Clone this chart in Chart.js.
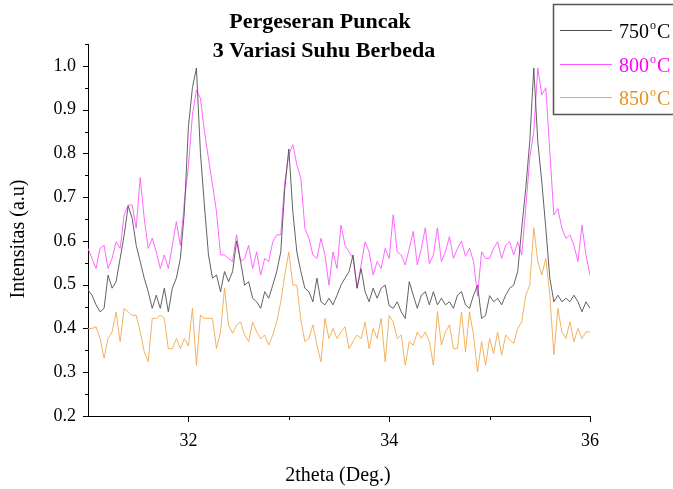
<!DOCTYPE html>
<html>
<head>
<meta charset="utf-8">
<script src="https://cdn.jsdelivr.net/npm/chart.js@4.4.1/dist/chart.umd.min.js"></script>
<style>
  html, body { margin: 0; padding: 0; background: #fff; }
  #wrap { width: 673px; height: 489px; }
</style>
</head>
<body>
<div id="wrap"><canvas id="xrd" width="673" height="489"></canvas></div>
<script>
// 2theta sampling grid (Deg.)
const thetaStart = 31;
const thetaStep = 0.04;

// normalised intensity
const s750 = [
  0.488, 0.476, 0.454, 0.438, 0.446, 0.522, 0.492, 0.507, 0.56, 0.613, 0.68, 0.652, 0.59, 0.553, 0.515, 0.484, 0.446, 0.476, 0.446, 0.492, 0.438, 0.492, 0.515, 0.56, 0.667, 0.86,
  0.95, 0.995, 0.80, 0.68, 0.568, 0.515, 0.522, 0.484, 0.53, 0.507, 0.53, 0.60, 0.553, 0.499, 0.507, 0.469, 0.461, 0.446, 0.484, 0.469, 0.499, 0.53, 0.575, 0.72, 0.81,
  0.667, 0.575, 0.53, 0.492, 0.484, 0.461, 0.515, 0.461, 0.454, 0.469, 0.454, 0.476, 0.499, 0.515, 0.53, 0.568, 0.492, 0.537, 0.484, 0.461, 0.492, 0.469, 0.492, 0.499, 0.452,
  0.446, 0.461, 0.438, 0.423, 0.507, 0.476, 0.446, 0.476, 0.484, 0.454, 0.484, 0.454, 0.469, 0.454, 0.461, 0.446, 0.476, 0.484, 0.454, 0.446, 0.476, 0.499, 0.423, 0.43, 0.475,
  0.461, 0.469, 0.454, 0.476, 0.492, 0.499, 0.53, 0.629, 0.72, 0.827, 0.995, 0.827, 0.735, 0.629, 0.515, 0.461, 0.476, 0.461, 0.469, 0.461, 0.476, 0.461, 0.438, 0.461, 0.446
];
const s800 = [
  0.583, 0.56, 0.537, 0.583, 0.59, 0.537, 0.56, 0.598, 0.583, 0.659, 0.682, 0.682, 0.629, 0.745, 0.652, 0.583, 0.606, 0.575, 0.537, 0.568, 0.537, 0.59, 0.644, 0.59, 0.69, 0.77,
  0.888, 0.945, 0.926, 0.85, 0.789, 0.728, 0.667, 0.568, 0.568, 0.56, 0.553, 0.614, 0.553, 0.56, 0.59, 0.537, 0.575, 0.522, 0.56, 0.553, 0.598, 0.614, 0.614, 0.735, 0.797,
  0.82, 0.774, 0.743, 0.629, 0.606, 0.568, 0.56, 0.606, 0.568, 0.499, 0.575, 0.537, 0.636, 0.59, 0.575, 0.56, 0.492, 0.545, 0.598, 0.575, 0.522, 0.553, 0.537, 0.583, 0.56,
  0.66, 0.575, 0.568, 0.545, 0.583, 0.622, 0.545, 0.583, 0.63, 0.548, 0.568, 0.63, 0.553, 0.575, 0.61, 0.56, 0.583, 0.6, 0.565, 0.583, 0.553, 0.474, 0.575, 0.56, 0.56,
  0.583, 0.598, 0.56, 0.59, 0.598, 0.568, 0.598, 0.568, 0.674, 0.789, 0.85, 0.995, 0.934, 0.95, 0.804, 0.659, 0.674, 0.629, 0.606, 0.614, 0.59, 0.553, 0.636, 0.568, 0.522
];
const s850 = [
  0.40, 0.40, 0.404, 0.377, 0.332, 0.377, 0.392, 0.438, 0.37, 0.446, 0.438, 0.43, 0.43, 0.392, 0.347, 0.324, 0.423, 0.423, 0.43, 0.423, 0.354, 0.354, 0.377, 0.354, 0.377, 0.36,
  0.446, 0.316, 0.43, 0.423, 0.423, 0.423, 0.354, 0.392, 0.492, 0.408, 0.389, 0.408, 0.415, 0.385, 0.37, 0.415, 0.392, 0.377, 0.385, 0.362, 0.385, 0.415, 0.461, 0.522, 0.575,
  0.499, 0.499, 0.42, 0.37, 0.377, 0.408, 0.362, 0.324, 0.423, 0.377, 0.40, 0.377, 0.392, 0.404, 0.354, 0.37, 0.385, 0.377, 0.415, 0.354, 0.40, 0.377, 0.423, 0.324, 0.43,
  0.415, 0.377, 0.385, 0.316, 0.37, 0.362, 0.392, 0.377, 0.392, 0.37, 0.316, 0.438, 0.362, 0.392, 0.408, 0.354, 0.354, 0.438, 0.347, 0.438, 0.385, 0.301, 0.37, 0.316, 0.377,
  0.343, 0.392, 0.339, 0.385, 0.374, 0.366, 0.40, 0.415, 0.476, 0.499, 0.63, 0.553, 0.522, 0.56, 0.476, 0.34, 0.446, 0.392, 0.377, 0.415, 0.37, 0.40, 0.377, 0.392, 0.392
];

const seriesNames = ["750", "800", "850"];
const lineColors = ["#505050", "#ff55ff", "#f2a850"];
const textColors = ["#000000", "#ff00ff", "#e8901a"];

// axis ticks
const xMajor = [32, 34, 36];
const xMinor = [33, 35];
const yMajor = [0.2, 0.3, 0.4, 0.5, 0.6, 0.7, 0.8, 0.9, 1.0];
const yMinor = [0.25, 0.35, 0.45, 0.55, 0.65, 0.75, 0.85, 0.95, 1.05];

const theta = s750.map((_, i) => +(thetaStart + i * thetaStep).toFixed(2));
const toPoints = (arr) => arr.map((v, i) => ({ x: theta[i], y: v }));

const serif = "'Liberation Serif', 'Times New Roman', serif";

// tick marks, titles and the boxed legend
const decorations = {
  id: "decorations",
  afterDraw(chart) {
    const ctx = chart.ctx;
    const xs = chart.scales.x;
    const ys = chart.scales.y;
    const left = chart.chartArea.left;
    const bottom = chart.chartArea.bottom;
    ctx.save();
    ctx.strokeStyle = "#000";
    ctx.lineWidth = 1;
    ctx.beginPath();
    yMajor.forEach(v => { const p = Math.round(ys.getPixelForValue(v)) + 0.5; ctx.moveTo(left - 5, p); ctx.lineTo(left, p); });
    yMinor.forEach(v => { const p = Math.round(ys.getPixelForValue(v)) + 0.5; ctx.moveTo(left - 3, p); ctx.lineTo(left, p); });
    xMajor.forEach(v => { const p = Math.round(xs.getPixelForValue(v)) + 0.5; ctx.moveTo(p, bottom); ctx.lineTo(p, bottom + 6); });
    xMinor.forEach(v => { const p = Math.round(xs.getPixelForValue(v)) + 0.5; ctx.moveTo(p, bottom); ctx.lineTo(p, bottom + 4); });
    ctx.stroke();

    // title
    ctx.fillStyle = "#000";
    ctx.textAlign = "center";
    ctx.textBaseline = "alphabetic";
    ctx.font = "bold 22px " + serif;
    ctx.fillText("Pergeseran Puncak", 320, 28);
    ctx.fillText("3 Variasi Suhu Berbeda", 324, 57);

    // axis titles
    ctx.font = "20px " + serif;
    ctx.fillText("2theta (Deg.)", 338, 481);
    ctx.save();
    ctx.translate(24, 239);
    ctx.rotate(-Math.PI / 2);
    ctx.fillText("Intensitas (a.u)", 0, 0);
    ctx.restore();

    // legend box
    ctx.fillStyle = "#fff";
    ctx.fillRect(553, 4, 130, 111);
    ctx.strokeStyle = "#555";
    ctx.lineWidth = 1.5;
    ctx.strokeRect(553.5, 4.5, 130, 110);
    seriesNames.forEach((name, i) => {
      const y = 30 + i * 33.5;
      ctx.strokeStyle = lineColors[i];
      ctx.lineWidth = 1;
      ctx.beginPath();
      ctx.moveTo(560, Math.round(y) + 0.5);
      ctx.lineTo(612, Math.round(y) + 0.5);
      ctx.stroke();
      ctx.fillStyle = textColors[i];
      ctx.textAlign = "left";
      ctx.font = "20px " + serif;
      let x = 619;
      ctx.fillText(name, x, y + 8);
      x += ctx.measureText(name).width + 1;
      ctx.font = "12px " + serif;
      ctx.fillText("o", x, y - 1);
      x += ctx.measureText("o").width + 1;
      ctx.font = "20px " + serif;
      ctx.fillText("C", x, y + 8);
    });
    ctx.restore();
  }
};

new Chart(document.getElementById("xrd").getContext("2d"), {
  type: "line",
  data: {
    datasets: [
      { label: seriesNames[0], data: toPoints(s750), borderColor: lineColors[0], borderWidth: 0.9 },
      { label: seriesNames[1], data: toPoints(s800), borderColor: lineColors[1], borderWidth: 0.9 },
      { label: seriesNames[2], data: toPoints(s850), borderColor: lineColors[2], borderWidth: 0.9 },
    ],
  },
  options: {
    responsive: false,
    animation: false,
    events: [],
    layout: { padding: { top: 44, right: 83, bottom: 0, left: 0 } },
    elements: { point: { radius: 0 }, line: { tension: 0 } },
    plugins: { legend: { display: false }, tooltip: { enabled: false } },
    scales: {
      x: {
        type: "linear",
        min: 31,
        max: 36,
        afterBuildTicks: (s) => { s.ticks = xMajor.map(v => ({ value: v })); },
        afterFit: (s) => { s.height = 73; },
        ticks: { padding: 14, color: "#000", font: { family: serif, size: 18 }, maxRotation: 0 },
        grid: { display: false, drawTicks: false },
        border: { display: true, color: "#000", width: 1 },
      },
      y: {
        min: 0.2,
        max: 1.05,
        afterBuildTicks: (s) => { s.ticks = yMajor.map(v => ({ value: v })); },
        afterFit: (s) => { s.width = 88; },
        ticks: { padding: 12, color: "#000", font: { family: serif, size: 18 }, callback: (v) => v.toFixed(1) },
        grid: { display: false, drawTicks: false },
        border: { display: true, color: "#000", width: 1 },
      },
    },
  },
  plugins: [decorations],
});
</script>
</body>
</html>
